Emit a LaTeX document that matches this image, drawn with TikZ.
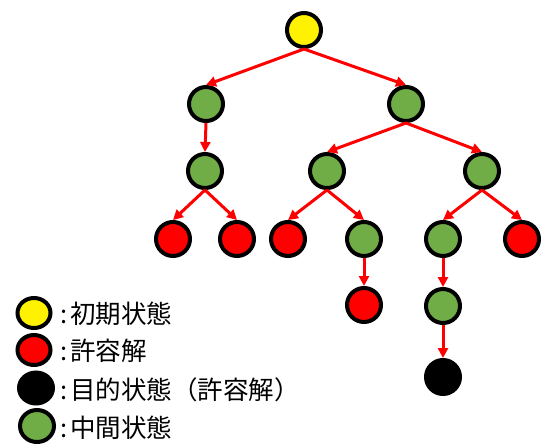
\documentclass[tikz,border=0pt]{standalone}
\usepackage{fontspec}
\setmainfont{Noto Sans CJK JP}
\usetikzlibrary{arrows.meta,shapes.geometric}
\definecolor{nodegreen}{HTML}{70AD47}
\tikzset{
  st/.style={circle, draw=black, line width=4pt, minimum size=34pt, inner sep=0pt},
  ini/.style={st, fill=yellow},
  ok/.style={st, fill=red},
  mid/.style={st, fill=nodegreen},
  goal/.style={st, fill=black},
  lg/.style={ellipse, draw=black, line width=4pt, minimum width=33pt, minimum height=30pt, inner sep=0pt},
  lbl/.style={anchor=west, inner sep=0pt, font=\fontsize{25.5}{28}\selectfont},
  edge/.style={draw=red, line width=3pt, -{Triangle[length=10pt,width=10pt]}}
}
\begin{document}
\begin{tikzpicture}[x=1pt,y=-1pt]
\useasboundingbox (0,0) rectangle (541,445);
\node[ini] (r) at (304,30) {};
\node[mid] (a) at (206,104) {};
\node[mid] (b) at (406,104) {};
\node[mid] (a1) at (205,171) {};
\node[mid] (b1) at (327,171) {};
\node[mid] (b2) at (482,171) {};
\node[ok] (l1) at (173,239) {};
\node[ok] (l2) at (237,239) {};
\node[ok] (l3) at (288,239) {};
\node[mid] (l4) at (364,239) {};
\node[mid] (l5) at (443,239) {};
\node[ok] (l6) at (522,239) {};
\node[ok] (m1) at (364,305) {};
\node[mid] (m2) at (443,306) {};
\node[goal] (g) at (443,377) {};
\foreach \p/\c in {r/a,r/b,a/a1,b/b1,b/b2,a1/l1,a1/l2,b1/l3,b1/l4,b2/l5,b2/l6,l4/m1,l5/m2,m2/g}
  \draw[edge] (\p.south) -- (\c.north);
% legend
\node[lg, fill=yellow] (k1) at (34,313) {};
\node[lg, fill=red] (k2) at (34,350) {};
\node[lg, fill=black, minimum width=34pt, minimum height=31pt] (k3) at (36,388) {};
\node[lg, fill=nodegreen, minimum width=34pt, minimum height=32pt] (k4) at (37,426) {};
\node[lbl] (t1) at (60,314) {:\hspace{3pt}初期状態};
\node[lbl] (t2) at (60,351) {:\hspace{3pt}許容解};
\node[lbl] (t3) at (60,390) {:\hspace{3pt}目的状態（許容解）};
\node[lbl] (t4) at (60,428) {:\hspace{3pt}中間状態};
\end{tikzpicture}
\end{document}
